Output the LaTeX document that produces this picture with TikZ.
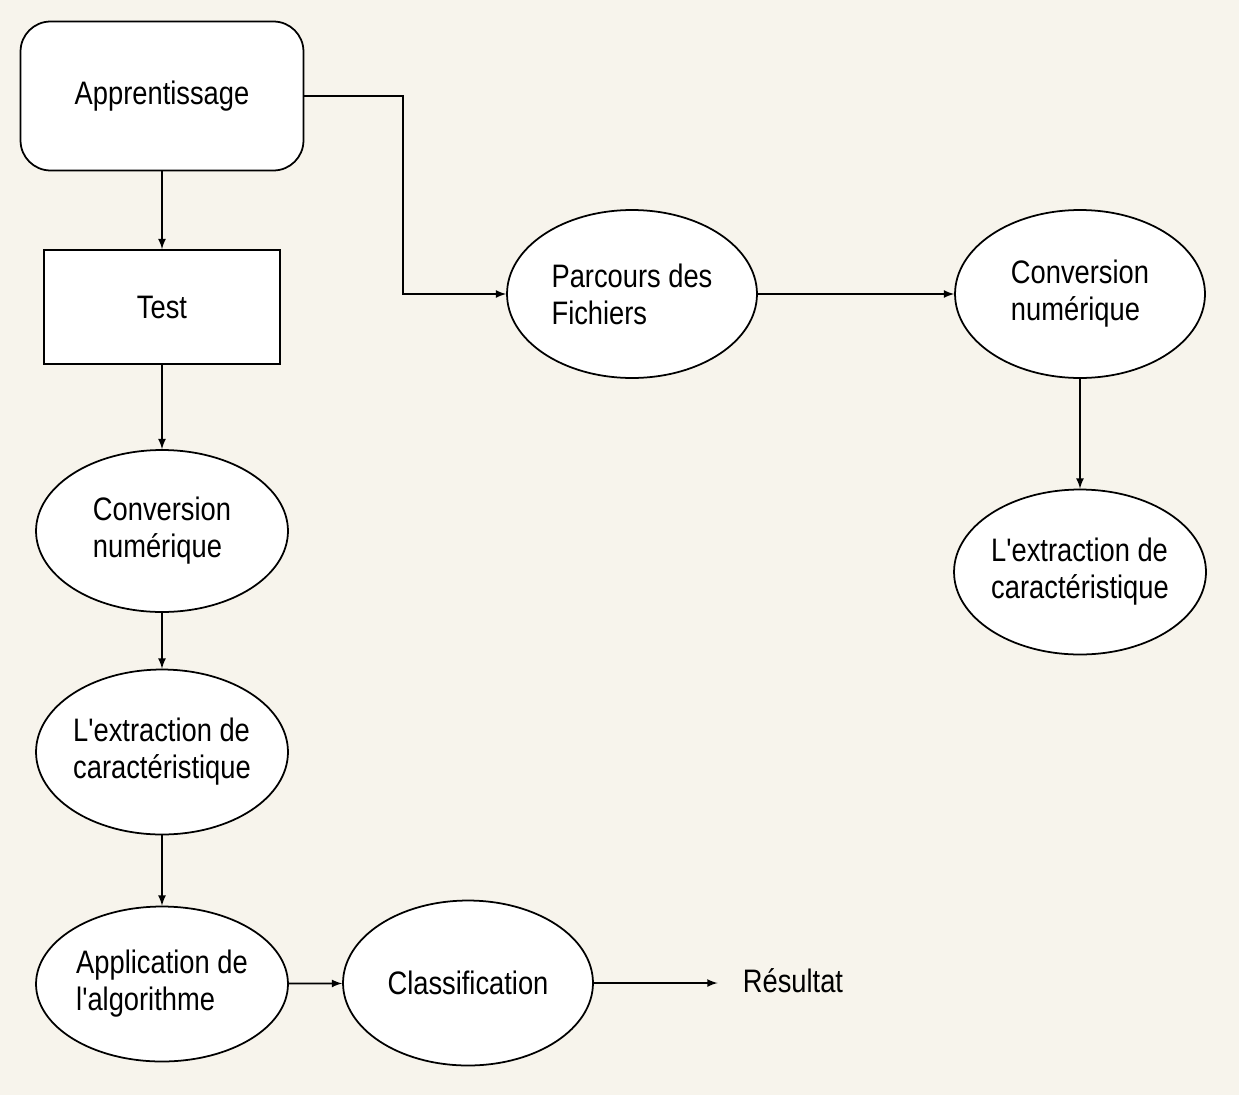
\documentclass[tikz,border=0pt]{standalone}
\usepackage{fontspec}
\setmainfont{Liberation Sans}[FakeStretch=0.84, Ligatures=TeXOff]
\usetikzlibrary{shapes.geometric, arrows}
\definecolor{fond}{HTML}{F7F4EC}

\begin{document}
\begin{tikzpicture}
  [
    x=0.02cm, y=-0.02cm,
    >=latex,
    every node/.style={font=\fontsize{18.5}{21}\selectfont},
    bulle/.style={draw, line width=1pt, fill=white, ellipse, inner sep=0pt,
      align=left, minimum width=5.04cm, minimum height=3.3cm},
    boite/.style={draw, line width=1pt, fill=white,
      minimum width=4.72cm, minimum height=2.28cm},
    lien/.style={->, line width=1pt}
  ]
  \fill [fond] (0,0) rectangle (1239,1095);
  \useasboundingbox (0,0) rectangle (1239,1095);
  % left column
  \node [boite, rounded corners=0.6cm, minimum width=5.66cm, minimum height=2.98cm]
    (app) at (162,96) {Apprentissage};
  \node [boite] (test) at (162,307) {Test};
  \node [bulle, minimum height=3.24cm] (conv1) at (162,531) {Conversion\\numérique};
  \node [bulle] (ext1) at (162,752) {L'extraction de\\caractéristique};
  \node [bulle, minimum height=3.1cm] (algo) at (162,984) {Application de\\l'algorithme};
  \node [bulle, minimum width=5cm] (class) at (468,983) {Classification};
  \node [inner xsep=0.5cm] (res) at (793,981) {Résultat};
  % right branch
  \node [bulle, minimum width=5cm, minimum height=3.36cm] (parc) at (632,294) {Parcours des\\Fichiers};
  \node [bulle, minimum width=5cm, minimum height=3.36cm] (conv2) at (1080,294) {Conversion\\numérique};
  \node [bulle] (ext2) at (1080,572) {L'extraction de\\caractéristique};
  \coordinate (coude) at (403,0);
  % edges
  \draw [lien] (app) -- (test);
  \draw [lien] (test) -- (conv1);
  \draw [lien] (conv1) -- (ext1);
  \draw [lien] (ext1) -- (algo);
  \draw [lien] (algo) -- (class);
  \draw [lien] (class) -- (class -| res.west);
  \draw [lien] (app.east) -- (app.east -| coude) |- (parc.west);
  \draw [lien] (parc) -- (conv2);
  \draw [lien] (conv2) -- (ext2);
\end{tikzpicture}
\end{document}
